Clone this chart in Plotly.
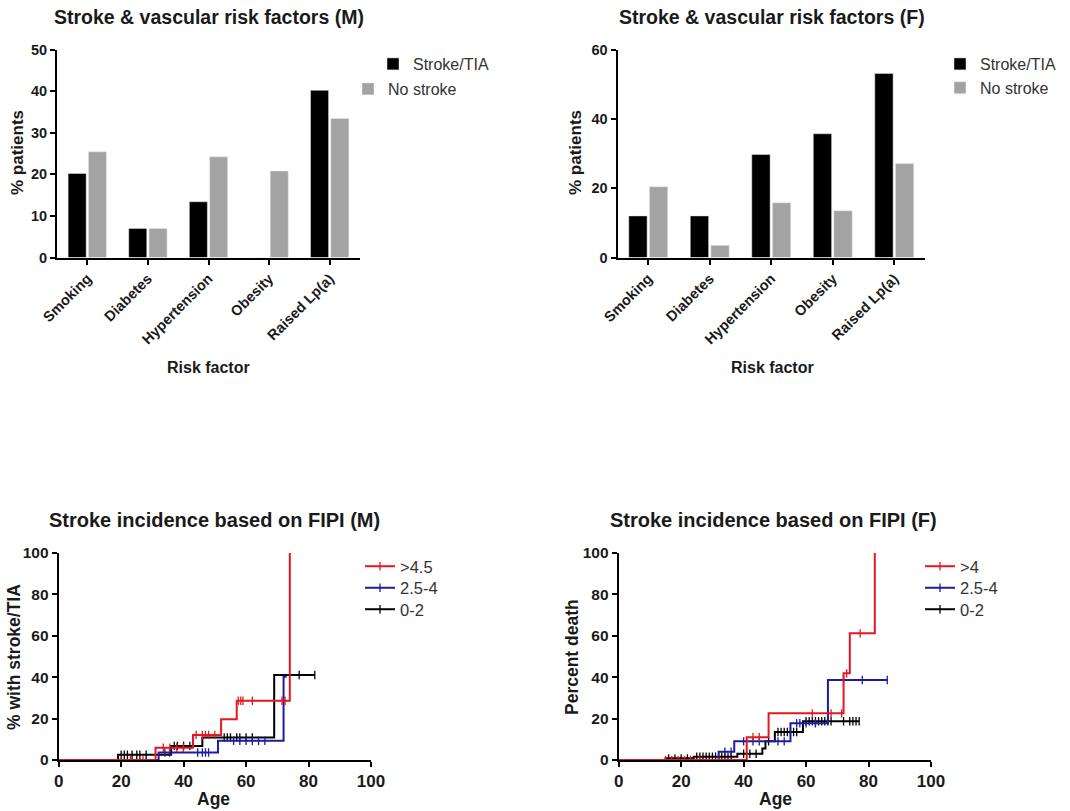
import plotly.graph_objects as go

W, H = 1070, 811

# ---------------- data ----------------
risk_factors = ["Smoking", "Diabetes", "Hypertension", "Obesity", "Raised Lp(a)"]
male_stroke = [20.2, 7.0, 13.4, 0.0, 40.2]
male_nostroke = [25.4, 7.0, 24.2, 20.8, 33.4]
female_stroke = [12.0, 12.0, 29.7, 35.7, 53.1]
female_nostroke = [20.4, 3.5, 15.8, 13.5, 27.1]

# Kaplan-Meier style step curves (age, cumulative % at that age)
m_hi_age = [0, 31, 43, 52, 57, 74]
m_hi_pct = [0, 5.9, 12.1, 19.6, 28.6, 100]
m_hi_cens = [23, 27, 33.5, 35.6, 37.8, 39.9, 44, 46, 47, 48, 50, 57.5, 58.3, 59, 62, 71.5, 72.5]

m_mid_age = [0, 32, 51, 72, 73]
m_mid_pct = [0, 3.6, 9.3, 40.2, 40.2]
m_mid_cens = [34, 35.5, 44.5, 46, 47, 48, 56, 58, 60, 62, 64, 66]

m_lo_age = [0, 19, 36, 46, 69, 82]
m_lo_pct = [0, 2.5, 6.8, 10.9, 41.0, 41.0]
m_lo_cens = [20, 21, 22, 23.5, 25, 26, 28, 37, 38, 40, 42, 53, 54, 55, 57, 58, 60, 62, 77, 82]

f_hi_age = [0, 41, 48, 72, 74, 82]
f_hi_pct = [0, 11.0, 22.5, 41.8, 61.1, 100]
f_hi_cens = [15, 17, 19, 21, 23, 26, 43, 45, 62, 68, 71.4, 73, 77.3]

f_mid_age = [0, 32, 37, 55, 67, 86]
f_mid_pct = [0, 4.0, 9.0, 17.7, 38.6, 38.6]
f_mid_cens = [34, 36, 40, 43, 45, 51, 53, 57, 58, 60, 63, 72, 78, 86]

f_lo_age = [0, 15, 24, 38, 46, 47, 50, 59, 77]
f_lo_pct = [0, 0.8, 1.6, 3.0, 5.5, 9.0, 13.5, 18.7, 18.7]
f_lo_cens = [16, 18, 20, 22, 25, 26, 27, 28, 29, 30, 31, 32, 33, 34, 35, 36, 40, 42, 44,
             48, 51, 52, 53, 54, 55, 56, 57, 60, 61, 62, 63, 64, 65, 66, 67, 68, 72, 74, 75, 76, 77]

m_groups = [">4.5", "2.5-4", "0-2"]
f_groups = [">4", "2.5-4", "0-2"]

# ---------------- styling ----------------
FONT = "Liberation Sans, Arial, sans-serif"
RED, BLUE, BLACK, GREY = "#e3191f", "#1c1ca0", "#000000", "#a3a3a3"
TXT = "#1a1a1a"


def px_x(x):
    return x / W


def px_y(y):
    return 1 - y / H


def level_at(ages, pcts, t):
    v = pcts[0]
    for a, p in zip(ages, pcts):
        if a <= t:
            v = p
    return v


fig = go.Figure()

# ---- bars ----
fig.add_trace(go.Bar(x=risk_factors, y=male_stroke, name="Stroke/TIA", marker_color=BLACK,
                     xaxis="x", yaxis="y", legend="legend"))
fig.add_trace(go.Bar(x=risk_factors, y=male_nostroke, name="No stroke", marker_color=GREY,
                     xaxis="x", yaxis="y", legend="legend2"))
fig.add_trace(go.Bar(x=risk_factors, y=female_stroke, name="Stroke/TIA", marker_color=BLACK,
                     xaxis="x2", yaxis="y2", legend="legend3"))
fig.add_trace(go.Bar(x=risk_factors, y=female_nostroke, name="No stroke", marker_color=GREY,
                     xaxis="x2", yaxis="y2", legend="legend3"))


def add_km(ages, pcts, cens, name, color, xa, ya, leg):
    fig.add_trace(go.Scatter(x=ages, y=pcts, mode="lines", line=dict(color=color, width=2, shape="hv"),
                             name=name, xaxis=xa, yaxis=ya, showlegend=False, legendgroup=leg))
    fig.add_trace(go.Scatter(x=cens, y=[level_at(ages, pcts, t) for t in cens], mode="markers",
                             marker=dict(symbol="line-ns", size=6, line=dict(color=color, width=1.3)),
                             showlegend=False, xaxis=xa, yaxis=ya, hoverinfo="skip", legendgroup=leg))
    # legend entry: line with a censor tick, as in the original
    fig.add_trace(go.Scatter(x=[None], y=[None], mode="lines+markers", name=name,
                             line=dict(color=color, width=2),
                             marker=dict(symbol="line-ns", size=6, line=dict(color=color, width=1.3)),
                             xaxis=xa, yaxis=ya, legend=leg, legendgroup=leg))


add_km(m_lo_age, m_lo_pct, m_lo_cens, m_groups[2], BLACK, "x3", "y3", "legend6")
add_km(m_mid_age, m_mid_pct, m_mid_cens, m_groups[1], BLUE, "x3", "y3", "legend5")
add_km(m_hi_age, m_hi_pct, m_hi_cens, m_groups[0], RED, "x3", "y3", "legend4")
add_km(f_lo_age, f_lo_pct, f_lo_cens, f_groups[2], BLACK, "x4", "y4", "legend9")
add_km(f_mid_age, f_mid_pct, f_mid_cens, f_groups[1], BLUE, "x4", "y4", "legend8")
add_km(f_hi_age, f_hi_pct, f_hi_cens, f_groups[0], RED, "x4", "y4", "legend7")

axis_common = dict(showline=True, linecolor=BLACK, linewidth=2, ticks="outside", ticklen=5,
                   tickwidth=2, tickcolor=BLACK, showgrid=False, zeroline=False, automargin=False,
                   tickfont=dict(family=FONT, size=14.5, color=TXT, weight="bold"))

top_y = [px_y(257.5), px_y(49.5)]
bot_y = [px_y(760), px_y(552.7)]

fig.update_layout(
    width=W, height=H, margin=dict(l=0, r=0, t=0, b=0),
    paper_bgcolor="white", plot_bgcolor="white",
    barmode="group", bargap=0.33, bargroupgap=0.11,
    xaxis=dict(domain=[px_x(57), px_x(360)], anchor="y", tickangle=-45, range=[-0.5, 4.5], **axis_common),
    yaxis=dict(domain=top_y, anchor="x", range=[0, 50], dtick=10, **axis_common),
    xaxis2=dict(domain=[px_x(617.5), px_x(925)], anchor="y2", tickangle=-45, range=[-0.5, 4.5], **axis_common),
    yaxis2=dict(domain=top_y, anchor="x2", range=[0, 60], dtick=20, **axis_common),
    xaxis3=dict(domain=[px_x(58.7), px_x(371)], anchor="y3", range=[0, 100], dtick=20, **axis_common),
    yaxis3=dict(domain=bot_y, anchor="x3", range=[0, 100], dtick=20, **axis_common),
    xaxis4=dict(domain=[px_x(618.7), px_x(931)], anchor="y4", range=[0, 100], dtick=20, **axis_common),
    yaxis4=dict(domain=bot_y, anchor="x4", range=[0, 100], dtick=20, **axis_common),
)
for ax in ["yaxis3", "yaxis4"]:
    fig.layout[ax].tickfont.size = 15.5
for ax in ["xaxis3", "xaxis4"]:
    fig.layout[ax].tickfont.size = 17

leg_top = dict(bgcolor="rgba(0,0,0,0)", borderwidth=0, xanchor="left", yanchor="top",
               font=dict(family=FONT, size=16, color="#333333"), tracegroupgap=2)
leg_bot = dict(bgcolor="rgba(0,0,0,0)", borderwidth=0, xanchor="left", yanchor="top",
               font=dict(family=FONT, size=16.5, color="#333333"))
fig.update_layout(
    legend=dict(x=px_x(373), y=px_y(47), **leg_top),
    legend2=dict(x=px_x(348), y=px_y(72), **leg_top),
    legend3=dict(x=px_x(940), y=px_y(47), traceorder="normal", **leg_top),
    legend4=dict(x=px_x(360), y=px_y(549), **leg_bot),
    legend5=dict(x=px_x(360), y=px_y(570.5), **leg_bot),
    legend6=dict(x=px_x(360), y=px_y(592), **leg_bot),
    legend7=dict(x=px_x(920), y=px_y(549), **leg_bot),
    legend8=dict(x=px_x(920), y=px_y(570.5), **leg_bot),
    legend9=dict(x=px_x(920), y=px_y(592), **leg_bot),
)

# ---- titles / axis titles ----
def ann(text, x, y, size, angle=0):
    fig.add_annotation(text=text, x=px_x(x), y=px_y(y), xref="paper", yref="paper",
                       showarrow=False, textangle=angle, xanchor="center", yanchor="middle",
                       font=dict(family=FONT, size=size, color=TXT, weight="bold"))


ann("Stroke &amp; vascular risk factors (M)", 209, 17, 19.5)
ann("Stroke &amp; vascular risk factors (F)", 772, 17, 19.5)
ann("Stroke incidence based on FIPI (M)", 214, 520, 20)
ann("Stroke incidence based on FIPI (F)", 773, 520, 20)
ann("Risk factor", 208, 367, 16)
ann("Risk factor", 772, 367, 16)
ann("% patients", 17, 153, 17, -90)
ann("% patients", 575, 153, 17, -90)
ann("Age", 213, 799, 17.5)
ann("Age", 775, 799, 17.5)
ann("% with stroke/TIA", 14, 657, 17.5, -90)
ann("Percent death", 572, 657, 17.5, -90)

fig.write_html("out.html")
